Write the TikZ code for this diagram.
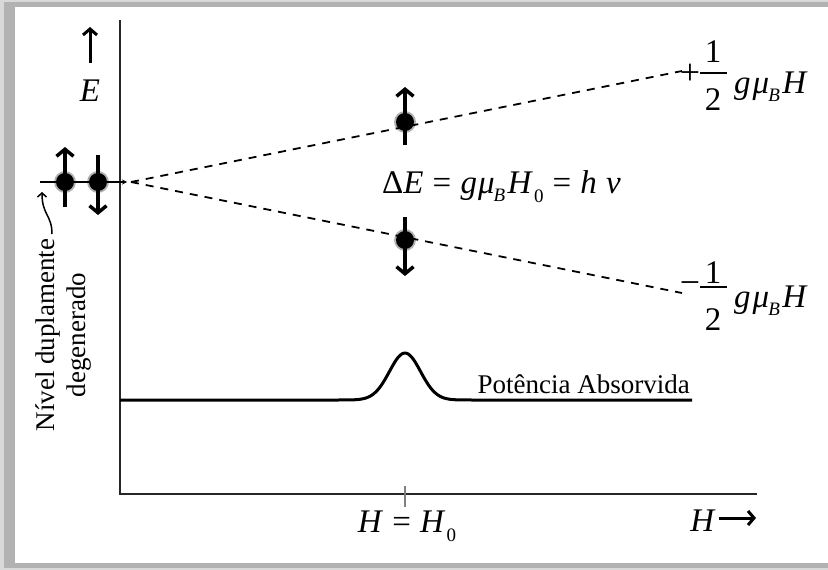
\documentclass[tikz,border=0pt]{standalone}
\usepackage{fontspec}
\setmainfont{Liberation Serif}
\usetikzlibrary{arrows.meta}
\newcommand\iv[1]{\textit{#1}}
\newcommand\lsub[1]{\kern-1pt\raisebox{-0.25em}{\fontsize{19}{19}\selectfont\itshape #1}\kern2.5pt}
\newcommand\nsub[1]{\kern1pt\raisebox{-0.3em}{\fontsize{19}{19}\selectfont #1}}
\tikzset{
  axisline/.style={line width=1.3pt, black!85},
  levelline/.style={line width=1.8pt, dash pattern=on 8pt off 7pt},
  spin/.style={line width=3.5pt, -{Straight Barb[length=7pt,width=17pt]}},
  dot/.style={circle, fill=black, inner sep=0pt, minimum size=18pt},
  halo/.style={circle, fill=black, fill opacity=0.3, inner sep=0pt, minimum size=22pt},
  mathlbl/.style={font=\fontsize{33}{38}\selectfont, inner sep=0pt},
  signlbl/.style={font=\fontsize{36}{40}\selectfont, inner sep=0pt},
  txtlbl/.style={font=\fontsize{27}{31}\selectfont, inner sep=0pt},
  curve/.style={line width=3pt},
  fracbar/.style={line width=1.6pt},
  lblarrow/.style={line width=3pt, -{Straight Barb[length=6pt,width=14pt]}},
}
\begin{document}
\begin{tikzpicture}[x=1pt,y=-1pt]
\useasboundingbox (0,0) rectangle (828,570);
% frame
\fill[gray!30] (0,0) rectangle (828,570);
\fill[gray!60] (4,2) rectangle (828,568);
\fill[white] (15,7) rectangle (828,563);
% axes
\coordinate (O) at (120,494);
\coordinate (Ytop) at (120,20);
\coordinate (Xend) at (757,494);
\draw[axisline] (Ytop) -- (O) -- (Xend);
\coordinate (tickA) at (405,486);
\coordinate (tickB) at (405,507);
\draw[gray, line width=1.2pt] (tickA) -- (tickB);
\node[mathlbl, anchor=base] (h0) at (407,532) {\iv{H}\;=\;\iv{H}\nsub{0}};
\node[mathlbl, anchor=base east] (hlab) at (716,531) {\iv{H}};
\coordinate (harrS) at (719,518);
\coordinate (harrE) at (756,518);
\draw[lblarrow] (harrS) -- (harrE);
% E axis label
\coordinate (earrS) at (90,63);
\coordinate (earrE) at (90,27);
\draw[lblarrow] (earrS) -- (earrE);
\node[mathlbl, anchor=base] (elab) at (90,101) {\iv{E}};
% degenerate level
\coordinate (L0) at (40,182);
\coordinate (L1) at (127,182);
\draw[line width=2pt, -{Stealth[length=5pt,width=5pt]}] (L0) -- (L1);
\coordinate (s1a) at (65,207); \coordinate (s1b) at (65,147);
\coordinate (s2a) at (98,155); \coordinate (s2b) at (98,215);
\draw[spin] (s1a) -- (s1b);
\draw[spin] (s2a) -- (s2b);
\node[halo] (h1) at (65,182) {};
\node[halo] (h2) at (98,182) {};
\node[dot] (d1) at (65,182) {};
\node[dot] (d2) at (98,182) {};
% split levels
\coordinate (S) at (131,182);
\coordinate (Up) at (682,71);
\coordinate (Dn) at (682,293);
\draw[levelline] (S) -- (Up);
\draw[levelline] (S) -- (Dn);
\coordinate (s3a) at (405,145); \coordinate (s3b) at (405,87);
\coordinate (s4a) at (405,217); \coordinate (s4b) at (405,276);
\draw[spin] (s3a) -- (s3b);
\draw[spin] (s4a) -- (s4b);
\node[halo] (h3) at (405,122) {};
\node[halo] (h4) at (405,240) {};
\node[dot] (d3) at (405,122) {};
\node[dot] (d4) at (405,240) {};
\node[mathlbl, anchor=base west] (de) at (382,193) {Δ\iv{E}\;=\;\iv{g\kern1ptμ}\lsub{B}\iv{H}\nsub{0}\;=\;\iv{h}\;\iv{ν}};
% +1/2 g mu_B H
\node[signlbl] (psign) at (690,74) {+};
\coordinate (pb1) at (700,73); \coordinate (pb2) at (727,73);
\draw[fracbar] (pb1) -- (pb2);
\node[mathlbl, anchor=base] (pnum) at (713,62) {1};
\node[mathlbl, anchor=base] (pden) at (713,110) {2};
\node[mathlbl, anchor=base west] (pexp) at (734,93) {\iv{g\kern2ptμ}\lsub{B}\iv{H}};
% -1/2 g mu_B H
\node[signlbl] (msign) at (690,288) {−};
\coordinate (mb1) at (700,287); \coordinate (mb2) at (727,287);
\draw[fracbar] (mb1) -- (mb2);
\node[mathlbl, anchor=base] (mnum) at (713,283) {1};
\node[mathlbl, anchor=base] (mden) at (713,330) {2};
\node[mathlbl, anchor=base west] (mexp) at (734,307) {\iv{g\kern2ptμ}\lsub{B}\iv{H}};
% absorption curve
\draw[curve] (120,400) -- (330,400) -- plot[domain=330:480,samples=80] (\x,{400-47*exp(-((\x-405)/22)^2)}) -- (692,400);
\node[txtlbl, anchor=base east] (pa) at (690,393) {Potência Absorvida};
% rotated label
\node[txtlbl, rotate=90, align=center] (nd) at (64,335) {Nível duplamente\\degenerado};
\coordinate (ca) at (52,234);
\coordinate (cb) at (42,192);
\draw[line width=1.5pt, -{Straight Barb[length=4pt,width=9pt]}] (ca) .. controls (52,215) and (42,215) .. (cb);
\end{tikzpicture}
\end{document}
